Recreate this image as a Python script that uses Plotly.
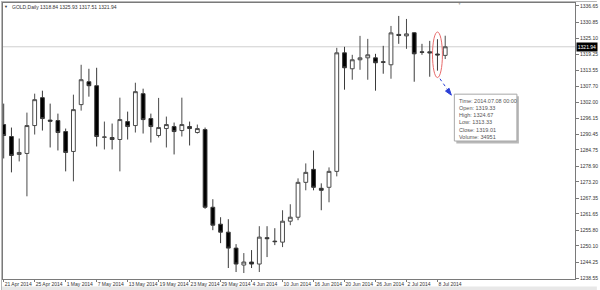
import plotly.graph_objects as go

# ---------------- data ----------------
dates = [
    "2014-04-21", "2014-04-22", "2014-04-23", "2014-04-24", "2014-04-25",
    "2014-04-28", "2014-04-29", "2014-04-30", "2014-05-01", "2014-05-02",
    "2014-05-05", "2014-05-06", "2014-05-07", "2014-05-08", "2014-05-09",
    "2014-05-12", "2014-05-13", "2014-05-14", "2014-05-15", "2014-05-16",
    "2014-05-19", "2014-05-20", "2014-05-21", "2014-05-22", "2014-05-23",
    "2014-05-26", "2014-05-27", "2014-05-28", "2014-05-29", "2014-05-30",
    "2014-06-02", "2014-06-03", "2014-06-04", "2014-06-05", "2014-06-06",
    "2014-06-09", "2014-06-10", "2014-06-11", "2014-06-12", "2014-06-13",
    "2014-06-16", "2014-06-17", "2014-06-18", "2014-06-19", "2014-06-20",
    "2014-06-23", "2014-06-24", "2014-06-25", "2014-06-26", "2014-06-27",
    "2014-06-30", "2014-07-01", "2014-07-02", "2014-07-03", "2014-07-04",
    "2014-07-07", "2014-07-08", "2014-07-09",
]

opens = [
    1293.89, 1289.58, 1283.11, 1283.47, 1293.53,
    1303.59, 1295.50, 1295.33, 1291.37, 1284.19,
    1301.08, 1309.34, 1307.90, 1289.30, 1289.22,
    1288.50, 1294.97, 1293.53, 1305.03, 1296.05,
    1289.94, 1292.45, 1293.17, 1291.73, 1293.17,
    1291.02, 1292.09, 1264.07, 1257.96, 1255.08,
    1249.34, 1243.23, 1244.31, 1243.59, 1253.10,
    1251.85, 1251.49, 1259.04, 1260.47, 1273.05,
    1277.73, 1270.90, 1271.26, 1277.01, 1319.76,
    1314.01, 1317.25, 1317.96, 1317.96, 1316.53,
    1315.45, 1326.40, 1325.87, 1327.00, 1320.12,
    1320.12, 1319.33, 1318.84,
]
highs = [
    1301.44, 1292.81, 1288.86, 1298.20, 1305.03,
    1306.11, 1301.44, 1297.84, 1292.45, 1304.67,
    1315.45, 1314.01, 1314.37, 1294.97, 1294.25,
    1303.59, 1298.56, 1308.98, 1306.83, 1297.84,
    1303.50, 1296.77, 1294.61, 1303.59, 1294.97,
    1293.89, 1292.81, 1266.97, 1260.47, 1259.76,
    1250.77, 1247.54, 1248.62, 1257.24, 1257.24,
    1256.52, 1262.99, 1265.15, 1274.49, 1279.88,
    1284.55, 1272.69, 1278.44, 1321.56, 1321.92,
    1319.04, 1325.87, 1324.79, 1319.40, 1322.28,
    1329.46, 1333.06, 1331.98, 1327.20, 1323.00,
    1324.07, 1324.67, 1325.93,
]
lows = [
    1281.67, 1276.65, 1280.60, 1268.02, 1290.30,
    1291.73, 1285.63, 1284.55, 1277.01, 1273.41,
    1298.92, 1303.95, 1285.99, 1284.91, 1284.91,
    1277.01, 1288.50, 1291.02, 1290.66, 1287.42,
    1289.22, 1285.63, 1283.11, 1289.58, 1286.35,
    1290.66, 1263.50, 1255.80, 1251.13, 1242.15,
    1240.71, 1240.35, 1242.15, 1240.71, 1246.10,
    1250.42, 1249.70, 1257.60, 1259.40, 1270.18,
    1270.18, 1262.99, 1265.86, 1275.21, 1306.47,
    1310.06, 1313.65, 1310.06, 1306.11, 1312.22,
    1310.42, 1323.00, 1321.20, 1309.34, 1319.04,
    1311.14, 1313.33, 1317.51,
]
closes = [
    1289.94, 1282.75, 1283.83, 1293.53, 1302.87,
    1296.05, 1295.10, 1291.02, 1283.83, 1299.28,
    1310.06, 1307.90, 1289.58, 1289.40, 1288.50,
    1295.69, 1293.17, 1305.75, 1295.69, 1293.17,
    1292.81, 1293.89, 1291.37, 1293.89, 1292.45,
    1292.45, 1264.07, 1257.60, 1255.08, 1249.34,
    1243.59, 1244.31, 1243.59, 1253.29, 1252.75,
    1251.67, 1259.04, 1260.47, 1273.05, 1276.65,
    1271.26, 1270.18, 1277.01, 1319.76, 1314.37,
    1317.25, 1317.96, 1319.04, 1316.17, 1316.35,
    1326.95, 1326.05, 1326.59, 1319.40, 1319.94,
    1319.76, 1319.01, 1321.94,
]
highlight_index = 56
highlight_volume = 34951

date_tick_pos = [0, 4, 8, 12, 16, 20, 24, 28, 32, 36, 40, 44, 48, 52, 56]
date_tick_text = [
    "21 Apr 2014", "25 Apr 2014", "1 May 2014", "7 May 2014", "13 May 2014",
    "19 May 2014", "23 May 2014", "29 May 2014", "4 Jun 2014", "10 Jun 2014",
    "16 Jun 2014", "20 Jun 2014", "26 Jun 2014", "2 Jul 2014", "8 Jul 2014",
]
price_ticks = [
    1336.65, 1330.85, 1325.10, 1319.25, 1313.55, 1307.70, 1302.00, 1296.15,
    1290.45, 1284.75, 1278.90, 1273.20, 1267.35, 1261.65, 1255.80, 1250.10,
    1244.25, 1238.55,
]

# ---------------- layout geometry (pixels) ----------------
W, H = 600, 290
PL, PR, PT, PB = 2, 578, 2, 279
BAR0_PX, BAR_STEP = 2.7, 7.8
PRICE_TOP_PX, PRICE_TOP = 5, 1336.65
PX_PER_UNIT = 2.783

x_lo = (PL - BAR0_PX) / BAR_STEP
x_hi = (PR - BAR0_PX) / BAR_STEP
y_hi = PRICE_TOP + (PRICE_TOP_PX - PT) / PX_PER_UNIT
y_lo = PRICE_TOP - (PB - PRICE_TOP_PX) / PX_PER_UNIT


def fx(px):
    return (px - PL) / (PR - PL)


def fy(py):
    return (PB - py) / (PB - PT)


FONT = "Liberation Sans"

fig = go.Figure()
fig.add_trace(go.Candlestick(
    x=dates, open=opens, high=highs, low=lows, close=closes,
    increasing=dict(line=dict(color="#4a4a4a", width=1), fillcolor="#ffffff"),
    decreasing=dict(line=dict(color="#3a3a3a", width=1), fillcolor="#000000"),
    whiskerwidth=0, hoverinfo="skip", showlegend=False,
))

shapes = []
# outer window frame and bottom strip
shapes.append(dict(type="rect", xref="paper", yref="paper",
                   x0=fx(0), x1=fx(W), y0=fy(286.5), y1=fy(H),
                   fillcolor="#e8e8e8", line=dict(width=0), layer="below"))
shapes.append(dict(type="line", xref="paper", yref="paper",
                   x0=fx(0.5), x1=fx(0.5), y0=fy(0), y1=fy(H),
                   line=dict(color="#b8b8b8", width=1)))
shapes.append(dict(type="line", xref="paper", yref="paper",
                   x0=fx(0), x1=fx(W), y0=fy(0.5), y1=fy(0.5),
                   line=dict(color="#b8b8b8", width=1)))
# current price line
last_close = closes[-1]
shapes.append(dict(type="line", xref="paper", yref="y",
                   x0=0, x1=1, y0=last_close, y1=last_close,
                   line=dict(color="#cfcfcf", width=1), layer="below"))
# red ellipse around highlighted candle
hi_cat = highlight_index
shapes.append(dict(type="circle", xref="x", yref="y",
                   x0=hi_cat - 0.64, x1=hi_cat + 0.64,
                   y0=lows[hi_cat] - 2.5, y1=highs[hi_cat] + 2.6,
                   line=dict(color="#e86a6a", width=1)))
# dotted blue arrow
shapes.append(dict(type="line", xref="paper", yref="paper",
                   x0=fx(442), y0=fy(78), x1=fx(450), y1=fy(89.5),
                   line=dict(color="#2b3fd6", width=1, dash="dot")))
ax_, ay_ = 453.5, 94.5
shapes.append(dict(type="path", xref="paper", yref="paper",
                   path=f"M {fx(ax_)},{fy(ay_)} L {fx(447.6)},{fy(90.4)} L {fx(451.2)},{fy(87.6)} Z",
                   fillcolor="#2b3fd6", line=dict(color="#2b3fd6", width=1)))
# tooltip box with shadow
shapes.append(dict(type="rect", xref="paper", yref="paper",
                   x0=fx(458.5), x1=fx(521.5), y0=fy(143), y1=fy(95.5),
                   fillcolor="#b8b8b8", line=dict(width=0)))
shapes.append(dict(type="rect", xref="paper", yref="paper",
                   x0=fx(456.5), x1=fx(519.5), y0=fy(140.5), y1=fy(93.5),
                   fillcolor="#ffffff", line=dict(color="#a8a8a8", width=1)))

annotations = []
header = "GOLD,Daily {:.2f} {:.2f} {:.2f} {:.2f}".format(
    opens[-1], highs[-1], lows[-1], closes[-1])
annotations.append(dict(xref="paper", yref="paper", x=fx(9.5), y=fy(6),
                        xanchor="left", yanchor="middle", showarrow=False,
                        text=header, font=dict(family=FONT, size=5, color="#333")))
annotations.append(dict(xref="paper", yref="paper", x=fx(5.5), y=fy(6),
                        xanchor="center", yanchor="middle", showarrow=False,
                        text="▼", font=dict(family=FONT, size=4, color="#333")))
annotations.append(dict(xref="paper", yref="paper", x=fx(462), y=fy(3.5),
                        xanchor="center", yanchor="middle", showarrow=False,
                        text="▼", font=dict(family=FONT, size=3, color="#999")))
annotations.append(dict(xref="paper", yref="y", x=1, y=last_close,
                        xanchor="left", yanchor="middle", showarrow=False,
                        xshift=0.5, text="{:.2f}".format(last_close),
                        bgcolor="#000000", borderpad=0.8,
                        font=dict(family=FONT, size=5, color="#ffffff")))
tip = "<br>".join([
    "Time: 2014.07.08 00:00",
    "Open: {:.2f}".format(opens[hi_cat]),
    "High: {:.2f}".format(highs[hi_cat]),
    "Low: {:.2f}".format(lows[hi_cat]),
    "Close: {:.2f}".format(closes[hi_cat]),
    "Volume: {}".format(highlight_volume),
])
annotations.append(dict(xref="paper", yref="paper", x=fx(459.5), y=fy(95.5),
                        xanchor="left", yanchor="top", showarrow=False, align="left",
                        text=tip, font=dict(family=FONT, size=5.5, color="#555")))

fig.update_layout(
    width=W, height=H, autosize=False,
    margin=dict(l=PL, r=W - PR, t=PT, b=H - PB, pad=0),
    paper_bgcolor="#ffffff", plot_bgcolor="#ffffff",
    shapes=shapes, annotations=annotations,
    xaxis=dict(type="category", range=[x_lo, x_hi], rangeslider=dict(visible=False),
               showgrid=False, zeroline=False,
               showline=True, linecolor="#7a7a7a", linewidth=1, mirror=True,
               tickmode="array", tickvals=[dates[i] for i in date_tick_pos],
               ticktext=date_tick_text, ticks="outside", ticklen=2,
               tickcolor="#7a7a7a", ticklabelposition="outside right",
               tickfont=dict(family=FONT, size=5, color="#333"), tickangle=0),
    yaxis=dict(range=[y_lo, y_hi], side="right", showgrid=False, zeroline=False,
               showline=True, linecolor="#7a7a7a", linewidth=1, mirror=True,
               tickmode="array", tickvals=price_ticks,
               ticktext=["{:.2f}".format(v) for v in price_ticks],
               ticks="outside", ticklen=3, tickcolor="#7a7a7a",
               tickfont=dict(family=FONT, size=5, color="#333")),
)

fig.write_html("out.html")
